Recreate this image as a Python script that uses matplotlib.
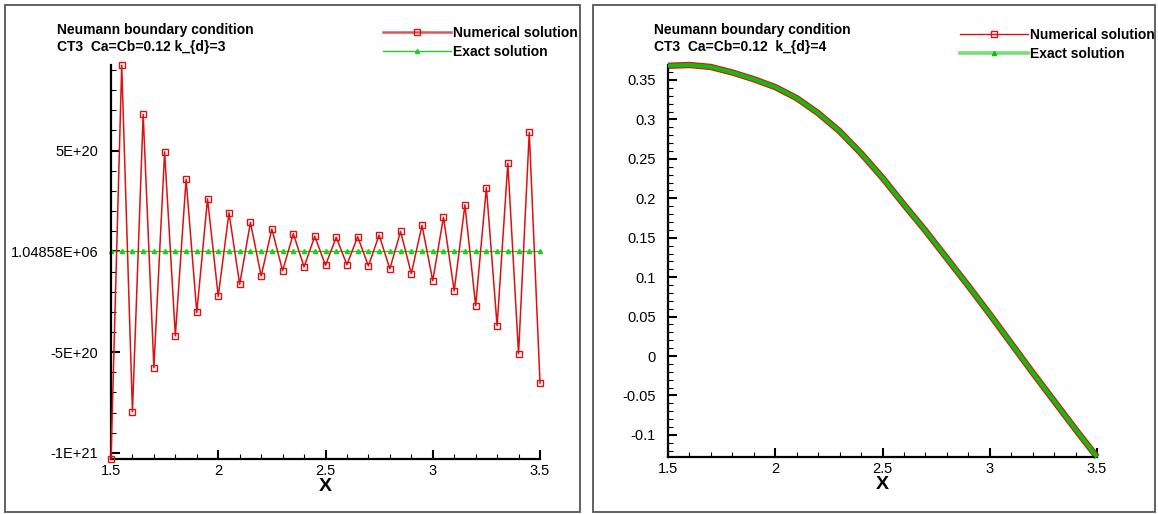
import numpy as np
import matplotlib
matplotlib.use("Agg")
import matplotlib.pyplot as plt
from matplotlib.ticker import MultipleLocator, FormatStrFormatter
from matplotlib.lines import Line2D
from matplotlib.patches import Rectangle

plt.rcParams['font.family'] = ['Liberation Sans', 'DejaVu Sans']
plt.rcParams['axes.unicode_minus'] = False

# panneau gauche : k_d = 3 (solution numerique instable)
x_kd3 = np.round(1.5 + 0.05 * np.arange(41), 2)
num_kd3 = np.array([
    -10.3, 9.24, -7.95, 6.80, -5.77, 4.94, -4.19, 3.58, -3.03, 2.61,
    -2.23, 1.92, -1.63, 1.44, -1.22, 1.11, -0.96, 0.88, -0.77, 0.75,
    -0.69, 0.70, -0.66, 0.73, -0.72, 0.81, -0.87, 0.99, -1.10, 1.29,
    -1.45, 1.70, -1.96, 2.31, -2.70, 3.17, -3.69, 4.38, -5.08, 5.91,
    -6.53]) * 1e20
exact_kd3 = np.full(41, 1.04858e6)
yticks_kd3 = [-1e21, -5e20, 1.04858e6, 5e20]
ylabels_kd3 = ['-1E+21', '-5E+20', '1.04858E+06', '5E+20']

# panneau droit : k_d = 4
x_kd4 = np.round(1.5 + 0.1 * np.arange(21), 1)
exact_kd4 = [0.368, 0.369, 0.3665, 0.3595, 0.351, 0.341, 0.327, 0.308,
             0.285, 0.257, 0.226, 0.192, 0.159, 0.124, 0.089, 0.053,
             0.016, -0.021, -0.057, -0.093, -0.128]
num_kd4 = exact_kd4

titres = [("Neumann boundary condition", "CT3  Ca=Cb=0.12 k_{d}=3"),
          ("Neumann boundary condition", "CT3  Ca=Cb=0.12  k_{d}=4")]

W, H = 1158, 514
fig = plt.figure(figsize=(W / 100, H / 100), dpi=100)

def fx(px):
    return px / W

def fy(py):
    return 1 - py / H

# cadres des deux panneaux
for x0, x1 in [(5, 580), (593, 1155)]:
    fig.add_artist(Rectangle((fx(x0), fy(512)), fx(x1 - x0), (512 - 5) / H,
                             transform=fig.transFigure, fill=False,
                             edgecolor='#555555', lw=1.3))

ax1 = fig.add_axes([fx(111), fy(459), fx(540 - 111), (459 - 65) / H])
ax2 = fig.add_axes([fx(668), fy(457), fx(1097 - 668), (457 - 65) / H])

rouge = '#dd1111'
vert = '#22cc22'

ax1.plot(x_kd3, num_kd3, color=rouge, lw=1.1, marker='s', ms=4.2,
         mfc='none', mec=rouge, mew=1.0, clip_on=False, zorder=3,
         label='Numerical solution')
ax1.plot(x_kd3, exact_kd3, color=vert, lw=1.0, marker='^', ms=3,
         mfc=vert, mec=vert, clip_on=False, zorder=2,
         label='Exact solution')
ax1.set_ylim(-1.03e21, 9.25e20)
ax1.set_yticks(yticks_kd3)
ax1.set_yticklabels(ylabels_kd3)
ax1.yaxis.set_minor_locator(MultipleLocator(1e20))

ax2.plot(x_kd4, num_kd4, color=rouge, lw=4.6, solid_capstyle='butt',
         clip_on=False, zorder=2)
ax2.plot(x_kd4, exact_kd4, color='#11bb11', lw=3.0, solid_capstyle='butt',
         clip_on=False, zorder=3)
ax2.set_ylim(-0.128, 0.369)
ax2.yaxis.set_major_locator(MultipleLocator(0.05))
ax2.yaxis.set_minor_locator(MultipleLocator(0.01))
ax2.yaxis.set_major_formatter(FormatStrFormatter('%g'))

for ax in (ax1, ax2):
    ax.set_xlim(1.5, 3.5)
    ax.xaxis.set_major_locator(MultipleLocator(0.5))
    ax.xaxis.set_minor_locator(MultipleLocator(0.1))
    ax.xaxis.set_major_formatter(FormatStrFormatter('%g'))
    for s in ('top', 'right'):
        ax.spines[s].set_visible(False)
    for s in ('left', 'bottom'):
        ax.spines[s].set_linewidth(1.6)
    ax.tick_params(which='major', direction='in', length=6.5, width=1.5,
                   labelsize=10.5)
    ax.tick_params(which='minor', direction='in', length=3.8, width=0.8)
    ax.tick_params(axis='y', which='major', pad=9)
    ax.tick_params(axis='x', which='major', pad=3.5)
    ax.set_xlabel('X', fontsize=14, fontweight='bold', labelpad=0)
    ax.patch.set_alpha(0)

# titres
for (l1, l2), x0 in zip(titres, (57, 654)):
    fig.text(fx(x0), fy(30), l1, fontsize=10, fontweight='bold', va='center')
    fig.text(fx(x0), fy(47), l2, fontsize=10, fontweight='bold', va='center')

# legendes
leg_kw = dict(loc='upper right', frameon=False, borderaxespad=0,
              borderpad=0, handlelength=4.9, handletextpad=0.15,
              labelspacing=0.35, numpoints=1,
              prop={'weight': 'bold', 'size': 10})
h1 = [Line2D([], [], color='#e05555', lw=1.8, marker='s', ms=4.2,
             mfc='none', mec=rouge, mew=1.0),
      Line2D([], [], color=vert, lw=1.0, marker='^', ms=3, mfc=vert,
             mec=vert)]
fig.legend(h1, ['Numerical solution', 'Exact solution'],
           bbox_to_anchor=(fx(578), fy(26)), bbox_transform=fig.transFigure,
           **leg_kw)
h2 = [Line2D([], [], color=rouge, lw=1.0, marker='s', ms=4.2,
             mfc='none', mec=rouge, mew=1.0),
      Line2D([], [], color='#77dd77', lw=2.6, marker='^', ms=3,
             mfc='#11bb11', mec='#11bb11')]
fig.legend(h2, ['Numerical solution', 'Exact solution'],
           bbox_to_anchor=(fx(1155), fy(28)), bbox_transform=fig.transFigure,
           **leg_kw)

fig.savefig('out.png', dpi=100)
